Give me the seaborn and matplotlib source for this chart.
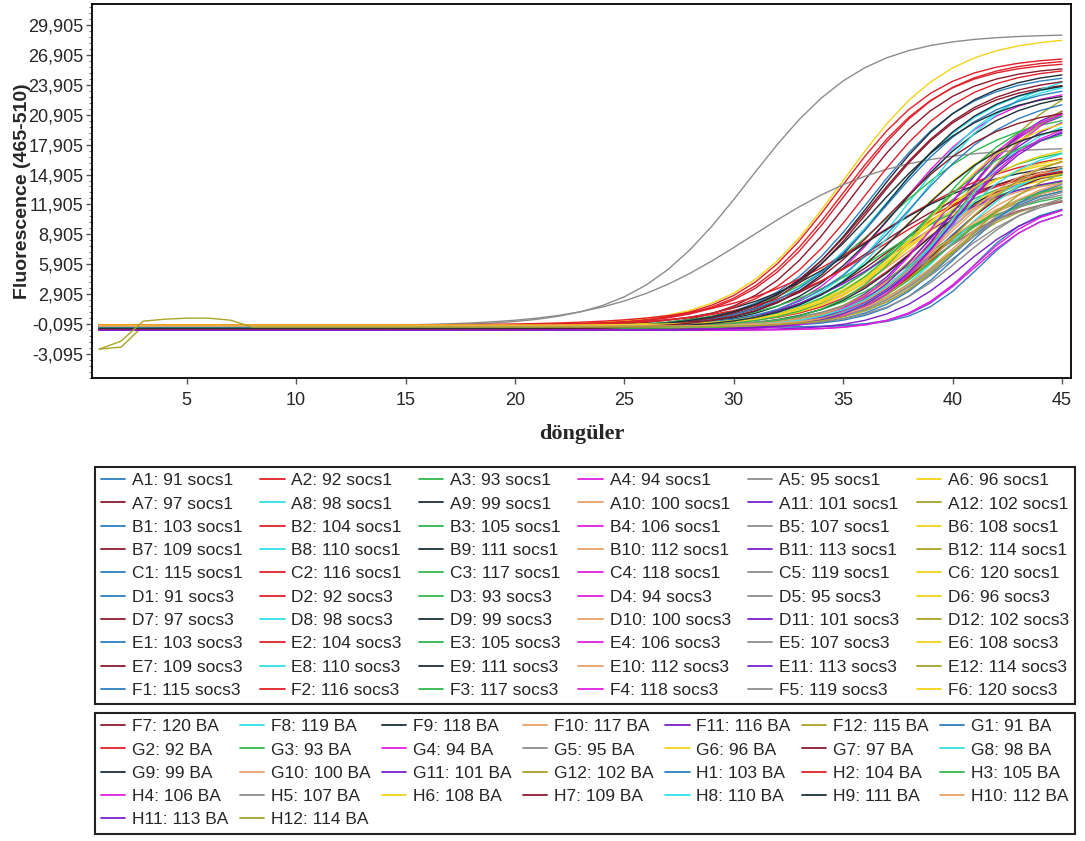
import numpy as np
import pandas as pd
import matplotlib
matplotlib.use("Agg")
import matplotlib.pyplot as plt
from matplotlib.lines import Line2D
from matplotlib.ticker import FixedLocator, FuncFormatter
import seaborn as sns

# wells per plate row, sample label for each
rows = ["A", "B", "C", "D", "E", "F", "G", "H"]
cols_per_row = [12, 12, 6, 12, 12, 12, 12, 12]
cycles = list(range(1, 46))

samples_A = ["91 socs1", "92 socs1", "93 socs1", "94 socs1", "95 socs1", "96 socs1",
             "97 socs1", "98 socs1", "99 socs1", "100 socs1", "101 socs1", "102 socs1"]
samples_B = ["103 socs1", "104 socs1", "105 socs1", "106 socs1", "107 socs1", "108 socs1",
             "109 socs1", "110 socs1", "111 socs1", "112 socs1", "113 socs1", "114 socs1"]
samples_C = ["115 socs1", "116 socs1", "117 socs1", "118 socs1", "119 socs1", "120 socs1"]
samples_D = ["91 socs3", "92 socs3", "93 socs3", "94 socs3", "95 socs3", "96 socs3",
             "97 socs3", "98 socs3", "99 socs3", "100 socs3", "101 socs3", "102 socs3"]
samples_E = ["103 socs3", "104 socs3", "105 socs3", "106 socs3", "107 socs3", "108 socs3",
             "109 socs3", "110 socs3", "111 socs3", "112 socs3", "113 socs3", "114 socs3"]
samples_F = ["115 socs3", "116 socs3", "117 socs3", "118 socs3", "119 socs3", "120 socs3",
             "120 BA", "119 BA", "118 BA", "117 BA", "116 BA", "115 BA"]
samples_G = ["91 BA", "92 BA", "93 BA", "94 BA", "95 BA", "96 BA",
             "97 BA", "98 BA", "99 BA", "100 BA", "101 BA", "102 BA"]
samples_H = ["103 BA", "104 BA", "105 BA", "106 BA", "107 BA", "108 BA",
             "109 BA", "110 BA", "111 BA", "112 BA", "113 BA", "114 BA"]

# amplification readings per well (sigmoid fit): half-max cycle, plateau, rise width
mid_A = [36.2, 34.8, 38.0, 37.5, 30.7, 35.0, 35.4, 38.0, 36.4, 39.0, 39.5, 40.5]
top_A = [25.5, 27.0, 18.5, 24.5, 29.3, 29.0, 26.5, 25.0, 26.0, 16.5, 23.0, 26.0]
wid_A = [2.3, 2.3, 2.4, 2.3, 2.6, 2.4, 2.3, 2.2, 2.3, 2.0, 2.1, 2.3]
mid_B = [39.5, 35.2, 37.0, 40.0, 30.8, 38.0, 37.5, 37.0, 37.5, 39.5, 40.0, 39.0]
top_B = [16.5, 26.8, 22.0, 23.5, 18.0, 20.5, 17.0, 25.0, 24.0, 15.5, 23.5, 14.5]
wid_B = [2.0, 2.3, 2.8, 2.0, 3.2, 2.3, 2.6, 2.4, 2.4, 2.0, 1.9, 2.2]
mid_C = [40.0, 36.5, 37.5, 40.5, 39.0, 38.5]
top_C = [14.5, 18.0, 16.0, 24.0, 14.0, 17.5]
wid_C = [1.8, 3.3, 2.4, 2.0, 2.2, 2.2]
mid_D = [41.0, 38.5, 37.0, 39.0, 40.0, 38.0, 36.5, 39.0, 36.0, 38.0, 37.5, 39.5]
top_D = [12.5, 16.0, 15.5, 16.5, 13.5, 15.5, 16.5, 16.0, 17.0, 15.0, 16.0, 15.0]
wid_D = [1.4, 2.2, 2.8, 1.9, 2.0, 2.3, 2.8, 1.9, 3.0, 2.3, 2.8, 2.0]
mid_E = [41.2, 39.0, 38.5, 41.0, 40.0, 38.0, 39.5, 40.0, 38.5, 39.0, 40.5, 39.5]
top_E = [12.0, 13.0, 14.0, 12.5, 15.0, 17.0, 16.5, 17.0, 16.5, 14.5, 13.0, 13.5]
wid_E = [1.4, 2.0, 2.4, 1.6, 2.0, 2.2, 1.9, 1.9, 2.2, 2.1, 1.8, 2.0]
mid_F = [40.5, 37.0, 39.5, 41.0, 39.0, 38.0, 36.4, 38.5, 37.0, 39.5, 40.0, 40.5]
top_F = [15.5, 16.5, 15.0, 13.0, 13.5, 16.0, 25.0, 26.0, 25.0, 17.0, 22.5, 24.5]
wid_F = [1.8, 3.0, 2.0, 1.6, 2.3, 2.4, 2.3, 2.3, 2.3, 2.0, 2.0, 2.2]
mid_G = [37.0, 35.0, 39.0, 39.5, 40.0, 39.0, 36.4, 40.0, 36.5, 39.5, 39.5, 40.0]
top_G = [24.5, 26.5, 22.5, 23.0, 14.5, 21.5, 25.5, 21.5, 24.0, 17.5, 21.0, 18.0]
wid_G = [2.4, 2.3, 2.1, 2.0, 2.0, 2.2, 2.4, 1.9, 2.5, 2.0, 2.0, 2.0]
mid_H = [38.0, 36.0, 38.5, 40.0, 40.5, 38.5, 37.0, 39.5, 38.0, 40.0, 40.0, 40.5]
top_H = [23.5, 26.0, 20.5, 21.5, 14.0, 18.5, 22.5, 18.5, 21.0, 15.5, 21.5, 17.0]
wid_H = [2.4, 2.3, 2.3, 1.9, 1.9, 2.3, 2.5, 2.0, 2.4, 2.0, 2.0, 2.0]

# baseline level by plate column, and odd first cycles of two wells
base_by_col = [-0.4, -0.2, -0.5, -0.7, -0.3, -0.2, -0.6, -0.4, -0.5, -0.3, -0.7, -0.4]
early_A12 = [-2.6, -2.4, -0.3]
early_H12 = [-2.6, -1.8, 0.2, 0.4, 0.5, 0.5, 0.3]

col_colors = ["#2f7fc1", "#e0202a", "#2eb84e", "#e020e0", "#8c8c8c", "#f2d31b",
              "#8b1a2e", "#30e0e8", "#1e2f3a", "#e8a068", "#7a20c8", "#a8a428"]

samples = [samples_A, samples_B, samples_C, samples_D, samples_E, samples_F, samples_G, samples_H]
mids = [mid_A, mid_B, mid_C, mid_D, mid_E, mid_F, mid_G, mid_H]
tops = [top_A, top_B, top_C, top_D, top_E, top_F, top_G, top_H]
wids = [wid_A, wid_B, wid_C, wid_D, wid_E, wid_F, wid_G, wid_H]
early = {"A12": early_A12, "H12": early_H12}

x = np.array(cycles, dtype=float)
records = []
wells, labels, palette = [], [], {}
for r, row in enumerate(rows):
    for c in range(cols_per_row[r]):
        well = f"{row}{c + 1}"
        y = base_by_col[c] + tops[r][c] / (1 + np.exp(-(x - mids[r][c]) / wids[r][c]))
        if well in early:
            vals = early[well]
            y[:len(vals)] = vals
        for cyc, val in zip(cycles, y):
            records.append({"well": well, "cycle": cyc, "fluor": val})
        wells.append(well)
        labels.append(f"{well}: {samples[r][c]}")
        palette[well] = col_colors[c]

df = pd.DataFrame(records)

sns.set_theme(style="white")
plt.rcParams["font.family"] = ["Liberation Sans", "DejaVu Sans"]

fig = plt.figure(figsize=(10.85, 8.41), dpi=100)
ax = fig.add_axes([0.0848, 0.5505, 0.902, 0.4447])
sns.lineplot(data=df, x="cycle", y="fluor", hue="well", hue_order=wells,
             palette=palette, estimator=None, linewidth=1.0, legend=False, ax=ax)

ax.set_xlim(0.67, 45.4)
ax.set_ylim(-5.5, 32.0)
y_ticks = [-3.095, -0.095, 2.905, 5.905, 8.905, 11.905, 14.905, 17.905,
           20.905, 23.905, 26.905, 29.905]
ax.yaxis.set_major_locator(FixedLocator(y_ticks))
ax.yaxis.set_minor_locator(FixedLocator(np.arange(-5.495, 32.0, 0.6)))
ax.yaxis.set_major_formatter(FuncFormatter(lambda v, p: f"{v:.3f}".replace(".", ",")))
ax.set_xticks([5, 10, 15, 20, 25, 30, 35, 40, 45])
ax.tick_params(axis="both", which="major", direction="out", length=4, width=1,
               color="#555555", labelsize=13, pad=2, left=True, bottom=True)
ax.tick_params(axis="x", which="major", pad=6)
ax.tick_params(axis="y", which="minor", direction="out", length=2, width=0.8,
               color="#777777", left=True)
for sp in ax.spines.values():
    sp.set_color("black")
    sp.set_linewidth(1.3)

ax.set_xlabel("döngüler", fontsize=16, fontweight="bold",
              family=["Liberation Serif", "DejaVu Serif"], labelpad=11)
ax.set_ylabel("Fluorescence (465-510)", fontsize=14, fontweight="bold")
ax.yaxis.set_label_coords(-0.062, 0.5)


def row_major(items, ncol):
    """reorder so matplotlib's column-wise legend reads row by row"""
    n = len(items)
    nrows = int(np.ceil(n / ncol))
    out = []
    for c in range(ncol):
        for r in range(nrows):
            i = r * ncol + c
            if i < n:
                out.append(items[i])
    return out


handles = [Line2D([], [], color=palette[w], lw=1.3) for w in wells]
split = 60
leg_boxes = [
    (handles[:split], labels[:split], 6, (95 / 1085, 1 - 707 / 841, 980 / 1085, 240 / 841)),
    (handles[split:], labels[split:], 7, (95 / 1085, 1 - 838 / 841, 980 / 1085, 125 / 841)),
]
for hs, ls, ncol, bbox in leg_boxes:
    leg = fig.legend(row_major(hs, ncol), row_major(ls, ncol), ncol=ncol,
                     loc="upper left", bbox_to_anchor=bbox, mode="expand",
                     fontsize=12.5, frameon=True, fancybox=False, shadow=False,
                     handlelength=1.4, handletextpad=0.4, labelspacing=0.47,
                     borderpad=0.35, borderaxespad=0, columnspacing=0.4)
    leg.get_frame().set_edgecolor("#222222")
    leg.get_frame().set_linewidth(1.5)
    leg.get_frame().set_alpha(1)

fig.savefig("out.png", dpi=100)
